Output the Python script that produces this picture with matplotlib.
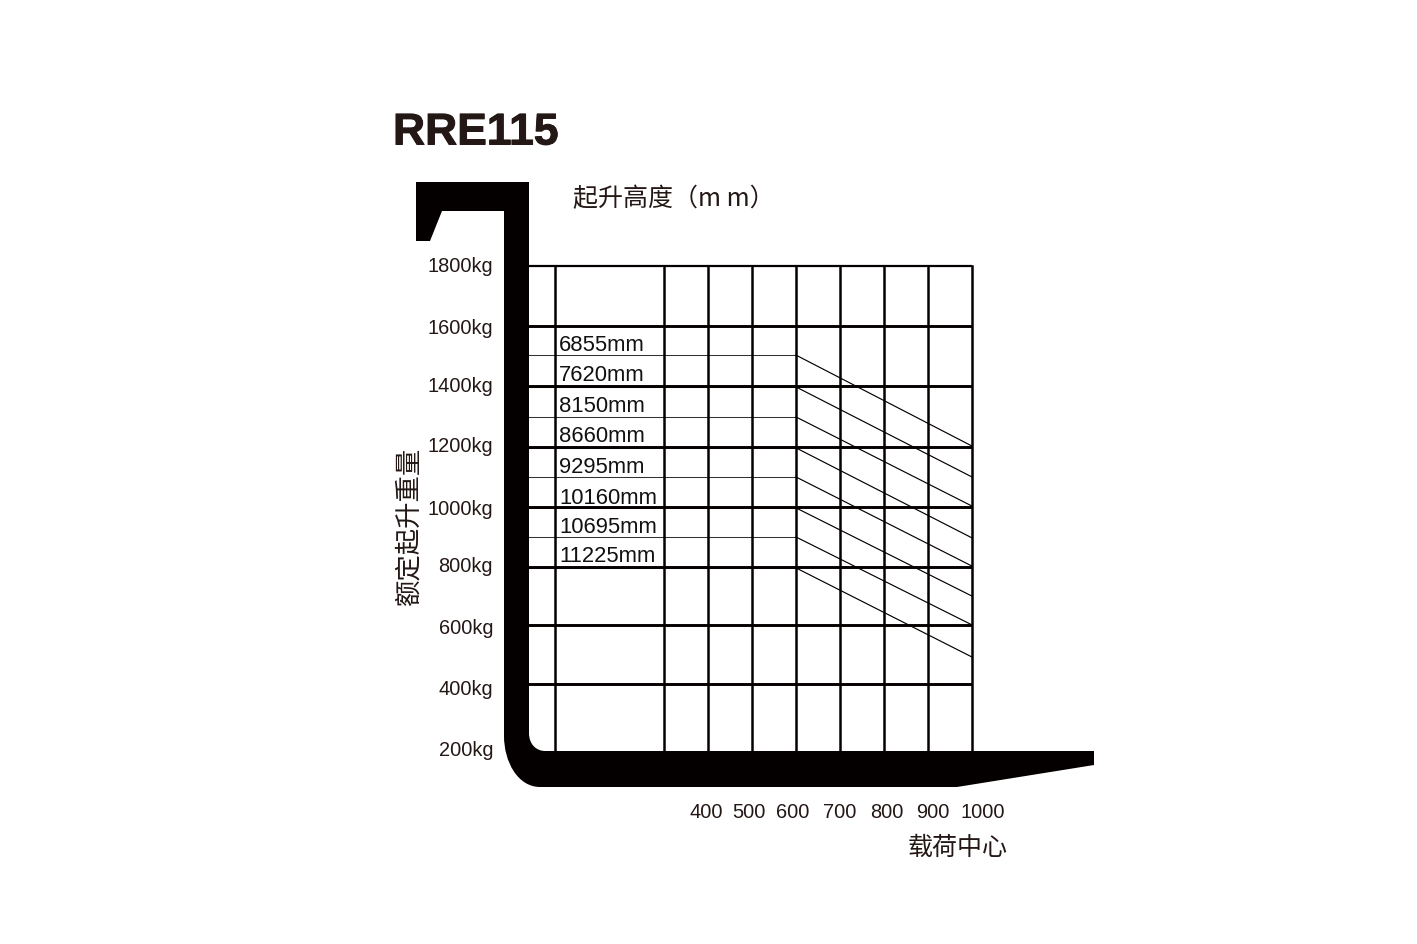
import matplotlib
matplotlib.use("Agg")
import matplotlib.pyplot as plt
import matplotlib.patheffects as pe
from matplotlib.path import Path
from matplotlib.patches import PathPatch
from matplotlib.transforms import Affine2D

W, H = 1417, 945
INK = "#040000"
TXT = "#231815"

title = "RRE115"
y_title = "额定起升重量"
x_title = "载荷中心"
top_title = "起升高度（m m）"

load_centers = [52, 300, 400, 500, 600, 700, 800, 900, 1000]
capacity_lines = [1800, 1602, 1404, 1203, 1005, 807, 615, 421]
fork_top_kg = 200

capacity_labels = ["1800kg", "1600kg", "1400kg", "1200kg", "1000kg", "800kg", "600kg", "400kg", "200kg"]
capacity_label_py = [266, 328, 386, 446, 509, 566, 628, 689, 750]
load_labels = ["400", "500", "600", "700", "800", "900", "1000"]
load_label_px = [706, 749, 793, 840, 887, 933, 983]

heights = ["6855mm", "7620mm", "8150mm", "8660mm", "9295mm", "10160mm", "10695mm", "11225mm"]
height_label_py = [345, 375, 406, 436, 467, 498, 527, 556]
kg_at_600 = [1506, 1401, 1302, 1200, 1104, 1002, 906, 804]
kg_at_1000 = [1206, 1104, 1008, 903, 810, 711, 616, 510]

fig = plt.figure(figsize=(W / 100, H / 100), dpi=100, facecolor="white")
ax = fig.add_axes([0, 0, 1, 1])
ax.set_xlim(400 + (0 - 708) / 0.44, 400 + (W - 708) / 0.44)
ax.set_ylim(1800 - (H - 267) / 0.303125, 1800 + 267 / 0.303125)
ax.axis("off")

# picture-pixel coordinates (origin top-left), shifted to line up with the reference raster
px = Affine2D().scale(1, -1).translate(0, H - 1)

# grid
x_left = 400 + (527 - 708) / 0.44
for i, kg in enumerate(capacity_lines):
    ax.plot([x_left, 1000], [kg, kg], color=INK, lw=1.6 if i == 0 else 2.1, solid_capstyle="butt", zorder=2)
for lc in load_centers:
    ax.plot([lc, lc], [1800, fork_top_kg], color=INK, lw=1.8, solid_capstyle="projecting", zorder=2)

# rating lines
for a, b in zip(kg_at_600, kg_at_1000):
    ax.plot([600, 1000], [a, b], color=INK, lw=0.85, zorder=3)
    ax.plot([x_left, 600], [a, a], color="#333333", lw=0.75, zorder=1.5)

# fork silhouette, drawn in picture pixels
verts = [(416, 182), (529, 182), (529, 733),
         (529, 745), (537, 751), (545, 751),
         (1094, 751), (1094, 765), (957, 787), (540, 787),
         (518, 787), (504, 762), (504, 736),
         (504, 211), (442, 211), (430, 241), (416, 241), (416, 182)]
codes = [Path.MOVETO, Path.LINETO, Path.LINETO,
         Path.CURVE4, Path.CURVE4, Path.CURVE4,
         Path.LINETO, Path.LINETO, Path.LINETO, Path.LINETO,
         Path.CURVE4, Path.CURVE4, Path.CURVE4,
         Path.LINETO, Path.LINETO, Path.LINETO, Path.LINETO, Path.CLOSEPOLY]
ax.add_patch(PathPatch(Path(verts, codes), facecolor=INK, edgecolor="none", transform=px, zorder=4))

sans = ["Liberation Sans", "DejaVu Sans"]
cjk = ["Noto Sans CJK SC", "DejaVu Sans"]
kw = dict(transform=px, color=TXT, zorder=5)

t = ax.text(393, 133, title, family=sans, weight="bold", fontsize=32, ha="left", va="center", **kw)
t.set_path_effects([pe.withStroke(linewidth=0.7, foreground=TXT)])
ax.text(573, 198, top_title, family=cjk, fontsize=18, ha="left", va="center", **kw)
ax.text(409, 525, y_title, family=cjk, fontsize=19, rotation=90, ha="center", va="center", **kw)
ax.text(1008, 847, x_title, family=cjk, fontsize=18, ha="right", va="center", **kw)

for s, y in zip(capacity_labels, capacity_label_py):
    ax.text(493, y, s, family=sans, fontsize=14.4, ha="right", va="center", **kw)
for s, x in zip(load_labels, load_label_px):
    ax.text(x, 812, s, family=sans, fontsize=14.4, ha="center", va="center", **kw)
for s, y in zip(heights, height_label_py):
    ax.text(559, y, s, family=sans, fontsize=15.8, ha="left", va="center", color="#111111", transform=px, zorder=5)

fig.savefig("out.png", dpi=100, facecolor="white")
